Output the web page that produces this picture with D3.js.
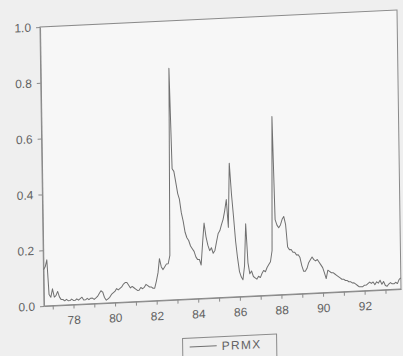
<!DOCTYPE html>
<html>
<head>
<meta charset="utf-8">
<script src="https://cdn.jsdelivr.net/npm/d3@7"></script>
<style>
  html, body { margin: 0; padding: 0; background: #efefef; }
  svg { display: block; }
</style>
</head>
<body>
<svg id="chart" width="403" height="356"></svg>
<script>
// Monthly series, first observation 1976:08
const seriesName = "PRMX";
const firstObs = [1976, 8];
const prmx = [
  0.13, 0.14, 0.165, 0.04, 0.03, 0.06, 0.03, 0.035, 0.05, 0.03,
  0.02, 0.02, 0.015, 0.02, 0.015, 0.015, 0.02, 0.015, 0.015, 0.02,
  0.015, 0.02, 0.025, 0.015, 0.015, 0.02, 0.015, 0.02, 0.02, 0.015,
  0.02, 0.025, 0.035, 0.045, 0.04, 0.02, 0.01, 0.015, 0.02, 0.03,
  0.035, 0.04, 0.05, 0.045, 0.05, 0.055, 0.065, 0.07, 0.07, 0.06,
  0.05, 0.055, 0.05, 0.045, 0.04, 0.04, 0.05, 0.045, 0.05, 0.06,
  0.055, 0.05, 0.05, 0.045, 0.045, 0.07, 0.10, 0.15, 0.12, 0.11,
  0.12, 0.13, 0.13, 0.16, 0.83, 0.47, 0.46, 0.42, 0.38, 0.36,
  0.31, 0.28, 0.24, 0.22, 0.21, 0.19, 0.18, 0.17, 0.15, 0.14,
  0.14, 0.12, 0.20, 0.27, 0.22, 0.19, 0.17, 0.18, 0.16, 0.17,
  0.20, 0.23, 0.24, 0.26, 0.28, 0.31, 0.35, 0.25, 0.48, 0.37,
  0.29, 0.20, 0.14, 0.09, 0.07, 0.06, 0.11, 0.26, 0.12, 0.08,
  0.09, 0.07, 0.065, 0.06, 0.07, 0.065, 0.08, 0.09, 0.085, 0.10,
  0.11, 0.12, 0.16, 0.64, 0.27, 0.25, 0.24, 0.25, 0.27, 0.28,
  0.25, 0.17, 0.16, 0.16, 0.15, 0.15, 0.14, 0.14, 0.13, 0.10,
  0.08, 0.08, 0.09, 0.11, 0.12, 0.13, 0.12, 0.115, 0.12, 0.11,
  0.10, 0.09, 0.07, 0.05, 0.08, 0.075, 0.07, 0.07, 0.065, 0.06,
  0.055, 0.05, 0.045, 0.045, 0.04, 0.04, 0.035, 0.035, 0.03, 0.03,
  0.025, 0.02, 0.015, 0.015, 0.015, 0.02, 0.02, 0.025, 0.03, 0.025,
  0.03, 0.02, 0.03, 0.025, 0.035, 0.02, 0.03, 0.015, 0.012, 0.02,
  0.025, 0.02, 0.02, 0.025, 0.02, 0.035, 0.04
];
const yTickValues = [0.0, 0.2, 0.4, 0.6, 0.8, 1.0];
const yearTicks = d3.range(1977, 1994);
const labeledYears = [1978, 1980, 1982, 1984, 1986, 1988, 1990, 1992];

const W = 357, H = 279;
const ink = "#626262";
const font = "'Liberation Sans', Arial, sans-serif";

const svg = d3.select("#chart");
// the whole frame sits slightly tilted on the page
const g = svg.append("g")
  .attr("transform", "matrix(1,-0.0476,0.0143,1,40,27)");

const dates = prmx.map((v, i) => new Date(firstObs[0], firstObs[1] - 1 + i, 1));
const x = d3.scaleTime().domain([dates[0], dates[dates.length - 1]]).range([0, W]);
const y = d3.scaleLinear().domain([0, 1]).range([H, 0]);

// plot box
g.append("rect")
  .attr("width", W).attr("height", H)
  .attr("fill", "#f7f7f7")
  .attr("stroke", "#8a8a8a").attr("stroke-width", 1);

// left axis
const yAxis = d3.axisLeft(y)
  .tickValues(yTickValues)
  .tickFormat(d3.format(".1f"))
  .tickSize(4).tickSizeOuter(0).tickPadding(5);
const ya = g.append("g").call(yAxis);

// bottom axis: a tick every January, labels on even years
const yearDates = yearTicks.map(yr => new Date(yr, 0, 1));
const xAxis = d3.axisBottom(x)
  .tickValues(yearDates)
  .tickFormat(d => labeledYears.includes(d.getFullYear()) ? d3.timeFormat("%y")(d) : "")
  .tickSize(4).tickSizeOuter(0).tickPadding(7);
const xa = g.append("g").attr("transform", `translate(0,${H})`).call(xAxis);

[ya, xa].forEach(a => {
  a.selectAll("path, line").attr("stroke", "#8a8a8a");
  a.selectAll("text")
    .attr("fill", ink)
    .style("font-family", font)
    .style("font-size", "12px");
});

// series line
const line = d3.line()
  .x((d, i) => x(dates[i]))
  .y(d => y(d));
g.append("path")
  .datum(prmx)
  .attr("d", line)
  .attr("fill", "none")
  .attr("stroke", "#707070")
  .attr("stroke-width", 1)
  .attr("stroke-linejoin", "round");

// legend
const leg = g.append("g").attr("transform", "translate(138,318)");
leg.append("rect")
  .attr("width", 94).attr("height", 40)
  .attr("fill", "none").attr("stroke", "#8a8a8a");
leg.append("line")
  .attr("x1", 7).attr("x2", 34).attr("y1", 9).attr("y2", 9)
  .attr("stroke", "#707070");
leg.append("text")
  .attr("x", 39).attr("y", 13.5)
  .attr("fill", ink)
  .style("font-family", font)
  .style("font-size", "12px")
  .style("letter-spacing", "1.3px")
  .text(seriesName);
</script>
</body>
</html>
